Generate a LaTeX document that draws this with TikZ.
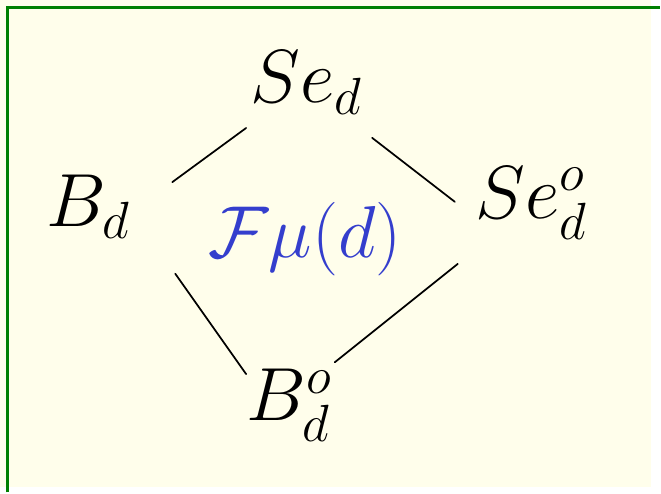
\documentclass[tikz,border=0pt]{standalone}
\usepackage{amsmath}
\usepackage{xcolor}
\usetikzlibrary{arrows.meta,positioning,calc}
\colorlet{noteBg}{yellow!8}
\colorlet{noteFrame}{green!50!black}
\definecolor{noteInk}{RGB}{52,62,205}
\tikzset{
  corner/.style={
    inner sep=3pt,
    scale=2.1, transform shape,
    font=\huge
  },
  centerlab/.style={
    inner sep=1pt,
    scale=2.05, transform shape,
    text=noteInk,
    font=\huge
  },
  edge/.style={
    line width=1pt,
    draw=black,
    line cap=round
  }
}
\begin{document}
\begin{tikzpicture}[x=0.02cm,y=-0.02cm]

% page and frame
\fill[noteBg] (0,0) rectangle (661,495);
\draw[noteFrame, line width=1.6pt] (8,500) -- (8,8) -- (670,8);
\useasboundingbox (0,0) rectangle (661,495);

\node[corner] (sed) at (312,84) {$Se_d$};
\node[corner] (bd) at (90,210) {$B_d$};
\node[corner] (sedo) at (540,206) {$Se^{o}_{d}$};
\node[corner] (bdo) at (294,412) {$B^{o}_{d}$};

\node[centerlab] (fmu) at (310,243) {$\mathcal{F}\mu(d)$};

% sides of the square
\draw[edge] ($(bd)+(85,-25)$) -- ($(sed)+(-62,46)$);
\draw[edge] ($(sed)+(66,56)$) -- ($(sedo)+(-78,-1)$);
\draw[edge] ($(sedo)+(-75,62)$) -- ($(bdo)+(46,-44)$);
\draw[edge] ($(bd)+(88,68)$) -- ($(bdo)+(-44,-32)$);

\end{tikzpicture}
\end{document}
